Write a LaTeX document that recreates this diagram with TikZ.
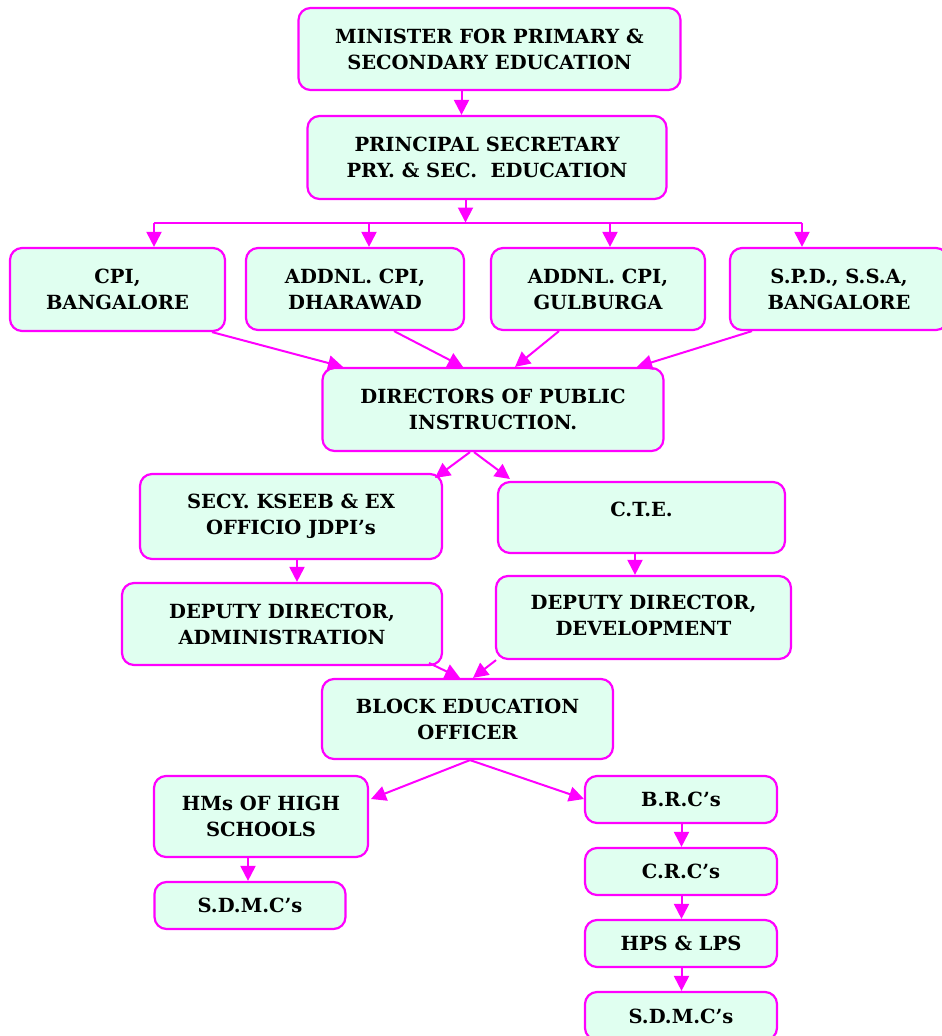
\documentclass[tikz,border=0pt]{standalone}
\usepackage{fontspec}
\setmainfont{DejaVu Serif}
\usetikzlibrary{arrows.meta}
\definecolor{mag}{RGB}{255,0,255}
\definecolor{mint}{RGB}{224,255,240}
\begin{document}
\begin{tikzpicture}[x=1pt,y=-1pt,
  box/.style={draw=mag, fill=mint, line width=2.2pt, rounded corners=12pt,
    align=center, inner sep=0pt, font=\fontsize{19.5}{26}\selectfont\bfseries},
  conn/.style={draw=mag, line width=2pt, -{Triangle[length=15pt,width=15pt]}},
  bar/.style={draw=mag, line width=2pt}]
\useasboundingbox (0,0) rectangle (942,1036);
% boxes: center x, center y, width, height
\node[box, minimum width=382pt, minimum height=82pt] (min) at (489.5,49) {MINISTER FOR PRIMARY \&\\SECONDARY EDUCATION};
\node[box, minimum width=359pt, minimum height=83pt] (ps) at (487,157.5) {PRINCIPAL SECRETARY\\PRY. \& SEC.\ \ EDUCATION};
\node[box, minimum width=215pt, minimum height=83pt] (cpi) at (117.5,289.5) {CPI,\\BANGALORE};
\node[box, minimum width=218pt, minimum height=82pt] (dha) at (355,289) {ADDNL. CPI,\\DHARAWAD};
\node[box, minimum width=214pt, minimum height=82pt] (gul) at (598,289) {ADDNL. CPI,\\GULBURGA};
\node[box, minimum width=218pt, minimum height=82pt] (spd) at (839,289) {S.P.D., S.S.A,\\BANGALORE};
\node[box, minimum width=341pt, minimum height=83pt] (dpi) at (493,409.5) {DIRECTORS OF PUBLIC\\INSTRUCTION.};
\node[box, minimum width=302pt, minimum height=85pt] (secy) at (291,516.5) {SECY. KSEEB \& EX\\OFFICIO JDPI’s};
\node[box, minimum width=287pt, minimum height=71pt] (cte) at (641.5,517.5) {\raisebox{16pt}{C.T.E.}};
\node[box, minimum width=320pt, minimum height=82pt] (dda) at (282,624) {DEPUTY DIRECTOR,\\ADMINISTRATION};
\node[box, minimum width=295pt, minimum height=83pt] (ddd) at (643.5,617.5) {\raisebox{6pt}{\begin{tabular}{@{}c@{}}DEPUTY DIRECTOR,\\DEVELOPMENT\end{tabular}}};
\node[box, minimum width=291pt, minimum height=80pt] (beo) at (467.5,719) {BLOCK EDUCATION\\OFFICER};
\node[box, minimum width=214pt, minimum height=81pt] (hms) at (261,816.5) {HMs OF HIGH\\SCHOOLS};
\node[box, minimum width=191pt, minimum height=47pt] (sdl) at (250,905.5) {S.D.M.C’s};
\node[box, minimum width=192pt, minimum height=47pt] (brc) at (681,799.5) {B.R.C’s};
\node[box, minimum width=192pt, minimum height=47pt] (crc) at (681,871.5) {C.R.C’s};
\node[box, minimum width=192pt, minimum height=47pt] (hps) at (681,943.5) {HPS \& LPS};
\node[box, minimum width=192pt, minimum height=48pt] (sdr) at (681,1016) {S.D.M.C’s};
% junction coordinates
\coordinate (jc) at (465.5,222.5);
\coordinate (jl) at (154,222.5);
\coordinate (jr) at (802,222.5);
% connectors
\draw[conn] (min.south -| 461.5,0) -- (ps.north -| 461.5,0);
\draw[conn] (ps.south -| jc) -- (jc);
\draw[bar] (jl) -- (jr);
\draw[conn] (jl) -- (jl |- cpi.north);
\draw[conn] (369,222.5) -- (dha.north -| 369,0);
\draw[conn] (610,222.5) -- (gul.north -| 610,0);
\draw[conn] (jr) -- (jr |- spd.north);
\draw[conn] (cpi.south -| 212,0) -- (dpi.north -| 343,0);
\draw[conn] (dha.south -| 394,0) -- (dpi.north -| 463,0);
\draw[conn] (gul.south -| 559,0) -- (dpi.north -| 515,0);
\draw[conn] (spd.south -| 752,0) -- (dpi.north -| 637,0);
\draw[conn] (dpi.south -| 470,0) -- (435,478);
\draw[conn] (dpi.south -| 474,0) -- (510,479);
\draw[conn] (secy.south -| 297,0) -- (dda.north -| 297,0);
\draw[conn] (cte.south -| 635,0) -- (ddd.north -| 635,0);
\draw[conn] (429,663) -- (beo.north -| 460,0);
\draw[conn] (ddd.south -| 496,0) -- (beo.north -| 473,0);
\draw[conn] (beo.south -| 470,0) -- (371,799);
\draw[conn] (beo.south -| 470,0) -- (584,799);
\draw[conn] (hms.south -| 248,0) -- (sdl.north -| 248,0);
\draw[conn] (brc.south -| 681.5,0) -- (crc.north -| 681.5,0);
\draw[conn] (crc.south -| 681.5,0) -- (hps.north -| 681.5,0);
\draw[conn] (hps.south -| 681.5,0) -- (sdr.north -| 681.5,0);
\end{tikzpicture}
\end{document}
